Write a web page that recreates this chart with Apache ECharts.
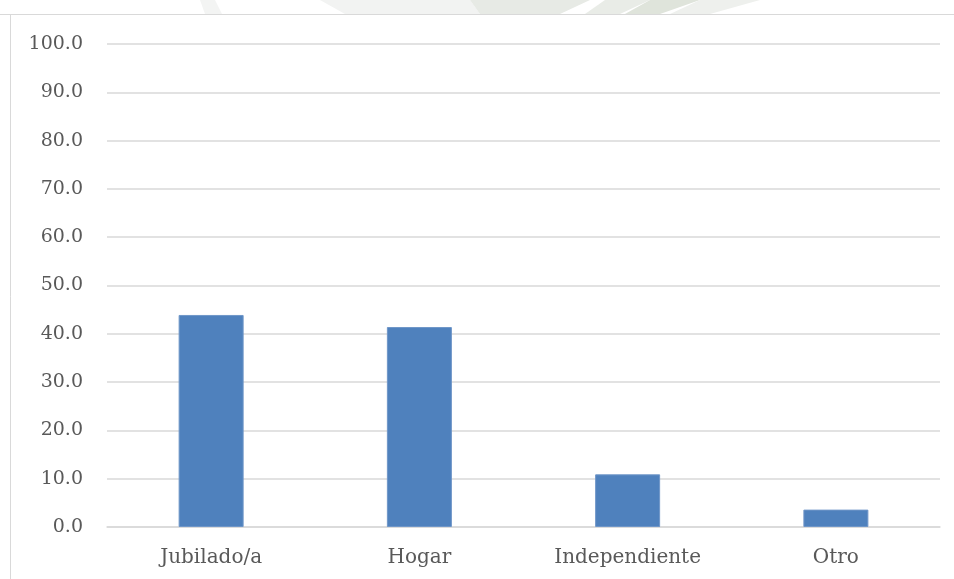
<!DOCTYPE html>
<html>
<head>
<meta charset="utf-8">
<script src="https://cdn.jsdelivr.net/npm/echarts@6/dist/echarts.min.js"></script>
<style>html,body{margin:0;padding:0;background:#fff;}#c{width:954px;height:579px;}</style>
</head>
<body>
<div id="c"></div>
<script>
const categories = ['Jubilado/a', 'Hogar', 'Independiente', 'Otro'];
const values = [43.9, 41.4, 10.9, 3.6];
const yMin = 0, yMax = 100, yStep = 10;

const chart = echarts.init(document.getElementById('c'), null, {renderer: 'canvas'});
chart.setOption({
  animation: false,
  backgroundColor: '#ffffff',
  graphic: [
    // faint watermark fragments at the top
    {type: 'polygon', z: -10, shape: {points: [[200,0],[215,0],[222,14],[205,14]]}, style: {fill: '#f3f4f3'}},
    {type: 'polygon', z: -10, shape: {points: [[320,0],[470,0],[480,14],[345,14]]}, style: {fill: '#f2f3f2'}},
    {type: 'polygon', z: -10, shape: {points: [[470,0],[590,0],[560,14],[480,14]]}, style: {fill: '#e7eae5'}},
    {type: 'polygon', z: -10, shape: {points: [[605,0],[650,0],[620,14],[585,14]]}, style: {fill: '#e9ece7'}},
    {type: 'polygon', z: -10, shape: {points: [[650,0],[700,0],[660,14],[625,14]]}, style: {fill: '#dfe4db'}},
    {type: 'polygon', z: -10, shape: {points: [[700,0],[760,0],[710,14],[670,14]]}, style: {fill: '#eef0ed'}},
    // outer border of the chart frame
    {type: 'line', z: 0, shape: {x1: 10.5, y1: 14.5, x2: 10.5, y2: 579}, style: {stroke: '#d9d9d9', lineWidth: 1}},
    {type: 'line', z: 0, shape: {x1: 0, y1: 14.5, x2: 954, y2: 14.5}, style: {stroke: '#d9d9d9', lineWidth: 1}}
  ],
  grid: {left: 107, right: 14, top: 44, bottom: 52, containLabel: false},
  xAxis: {
    type: 'category',
    data: categories,
    axisLine: {show: true, lineStyle: {color: '#d9d9d9', width: 1.5}},
    axisTick: {show: false},
    axisLabel: {color: '#595959', fontFamily: 'DejaVu Serif', fontSize: 20, margin: 21}
  },
  yAxis: {
    type: 'value',
    min: yMin, max: yMax, interval: yStep,
    axisLine: {show: false},
    axisTick: {show: false},
    splitLine: {lineStyle: {color: '#d9d9d9', width: 1.5}},
    axisLabel: {color: '#595959', fontFamily: 'DejaVu Serif', fontSize: 19, margin: 24,
      formatter: v => v.toFixed(1)}
  },
  series: [{
    type: 'bar',
    data: values,
    barWidth: 65,
    itemStyle: {color: '#4f81bd', borderColor: '#6f96c8', borderWidth: 1}
  }]
});
</script>
</body>
</html>
